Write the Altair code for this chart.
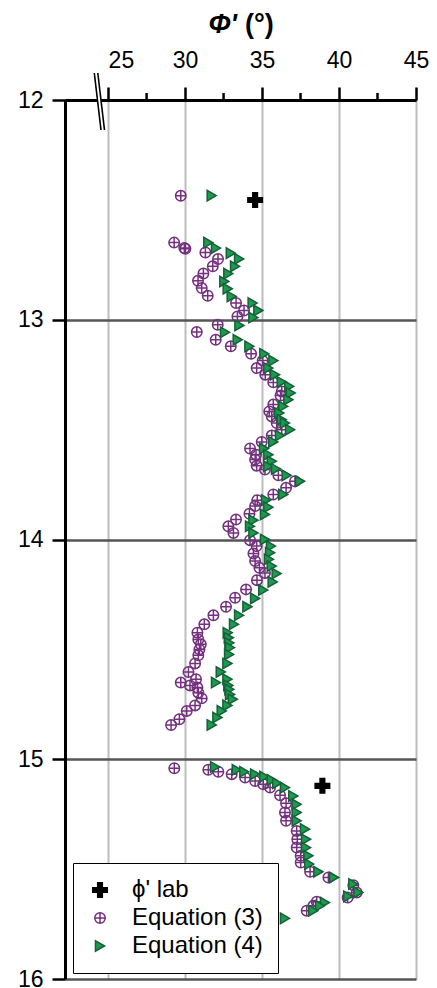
import altair as alt
import pandas as pd

# ---- data ----
eq3_depth = [12.436, 12.649, 12.674, 12.677, 12.694, 12.724, 12.757, 12.790, 12.823, 12.856,
             12.891, 12.924, 12.958, 12.985, 13.023, 13.056, 13.091, 13.121, 13.155, 13.186,
             13.220, 13.250, 13.285, 13.326, 13.345, 13.386, 13.417, 13.440, 13.470, 13.500,
             13.527, 13.556, 13.586, 13.614, 13.636, 13.664, 13.682, 13.708, 13.735, 13.765,
             13.795, 13.821, 13.848, 13.883, 13.909, 13.940, 13.970, 14.003, 14.030, 14.064,
             14.098, 14.129, 14.152, 14.185, 14.227, 14.265, 14.306, 14.345, 14.386, 14.424,
             14.455, 14.477, 14.500, 14.527, 14.564, 14.603, 14.636, 14.651, 14.664, 14.674,
             14.697, 14.723, 14.755, 14.780, 14.818, 14.844, 15.041, 15.048, 15.057, 15.068,
             15.083, 15.099, 15.114, 15.129, 15.164, 15.200, 15.242, 15.280, 15.326, 15.364,
             15.402, 15.439, 15.470, 15.512, 15.538, 15.573, 15.606, 15.629, 15.648, 15.667,
             15.689]
eq3_phi = [29.72, 29.29, 29.95, 30.02, 31.32, 32.14, 31.80, 31.19, 30.84, 31.08,
           31.47, 33.31, 33.83, 33.40, 32.12, 30.76, 31.99, 32.97, 34.29, 35.04,
           34.65, 35.21, 35.73, 36.28, 36.20, 35.73, 35.47, 35.63, 35.95, 36.28,
           35.63, 34.98, 34.22, 34.61, 34.55, 34.65, 35.19, 36.06, 37.14, 36.56,
           35.73, 34.69, 34.55, 34.18, 33.31, 32.81, 33.14, 34.22, 34.65, 34.44,
           34.55, 34.83, 35.19, 34.67, 33.96, 33.25, 32.66, 31.84, 31.25, 30.80,
           30.86, 31.02, 30.93, 30.86, 30.65, 30.22, 30.71, 29.72, 30.32, 30.80,
           30.86, 31.08, 30.65, 30.11, 29.63, 29.09, 29.30, 31.51, 32.16, 33.03,
           33.90, 34.55, 35.08, 35.52, 36.17, 36.56, 36.49, 36.56, 37.25, 37.29,
           37.25, 37.51, 37.51, 38.12, 39.31, 40.93, 41.15, 40.56, 38.55, 38.33,
           37.90]

eq4_depth = [12.435, 12.649, 12.674, 12.697, 12.723, 12.757, 12.790, 12.826, 12.859, 12.894,
             12.924, 12.958, 12.990, 13.026, 13.057, 13.091, 13.121, 13.155, 13.186, 13.220,
             13.250, 13.283, 13.303, 13.333, 13.364, 13.394, 13.424, 13.455, 13.470, 13.500,
             13.527, 13.556, 13.586, 13.614, 13.644, 13.667, 13.679, 13.708, 13.735, 13.795,
             13.821, 13.853, 13.886, 13.912, 13.940, 13.970, 14.000, 14.030, 14.060, 14.090,
             14.121, 14.155, 14.193, 14.230, 14.268, 14.306, 14.345, 14.386, 14.424, 14.447,
             14.470, 14.492, 14.523, 14.564, 14.603, 14.636, 14.651, 14.664, 14.682, 14.705,
             14.727, 14.755, 14.780, 14.810, 14.844, 15.035, 15.048, 15.057, 15.068, 15.079,
             15.094, 15.109, 15.129, 15.167, 15.205, 15.242, 15.280, 15.318, 15.364, 15.402,
             15.439, 15.477, 15.512, 15.538, 15.568, 15.606, 15.624, 15.652, 15.667, 15.689,
             15.724]
eq4_phi = [31.73, 31.51, 32.01, 32.97, 33.51, 33.25, 32.81, 32.55, 32.77, 33.03,
           34.39, 34.76, 34.44, 33.53, 32.60, 33.42, 34.18, 35.15, 35.74, 35.41,
           35.84, 36.28, 36.77, 36.86, 36.71, 36.38, 36.12, 36.28, 36.49, 36.82,
           36.17, 35.73, 35.13, 35.41, 35.63, 35.41, 35.91, 36.60, 37.47, 36.38,
           35.26, 35.41, 35.19, 34.44, 34.22, 34.44, 35.19, 35.58, 35.52, 35.45,
           35.63, 35.95, 35.69, 35.08, 34.55, 34.05, 33.51, 33.18, 32.77, 32.84,
           32.88, 32.92, 32.86, 32.75, 32.32, 32.75, 32.01, 32.81, 32.88, 32.92,
           33.10, 32.75, 32.38, 32.10, 31.73, 31.95, 33.36, 33.85, 34.55, 35.15,
           35.63, 35.99, 36.49, 37.03, 37.25, 37.25, 37.25, 37.79, 37.86, 37.86,
           38.01, 38.07, 38.66, 39.68, 40.93, 41.26, 40.60, 39.09, 38.77, 38.33,
           36.49]

lab_depth = [12.455, 15.121]
lab_phi = [34.55, 38.92]

series_names = ["\u03d5' lab", "Equation (3)", "Equation (4)"]
x_ticks = [25, 30, 35, 40, 45]
x_minor = [27.5, 32.5, 37.5, 42.5]
y_ticks = [12, 13, 14, 15, 16]

rows = []
for d, p in zip(eq3_depth, eq3_phi):
    rows.append({"series": series_names[1], "depth": d, "phi": p})
for d, p in zip(eq4_depth, eq4_phi):
    rows.append({"series": series_names[2], "depth": d, "phi": p})
for d, p in zip(lab_depth, lab_phi):
    rows.append({"series": series_names[0], "depth": d, "phi": p})
df = pd.DataFrame(rows)

W, H = 351, 879
FONT = "Liberation Sans"

xs = alt.Scale(domain=[22.2, 45], nice=False, zero=False)
ys = alt.Scale(domain=[12, 16], reverse=True, nice=False, zero=False)

circle_plus = "M-1,0A1,1,0,1,1,1,0A1,1,0,1,1,-1,0ZM-1,0L1,0M0,-1L0,1"
plus_path = "M-1,-0.32H-0.32V-1H0.32V-0.32H1V0.32H0.32V1H-0.32V0.32H-1Z"

leg = dict(title=None, orient="none", legendX=8, legendY=763)

points = alt.Chart(df).mark_point(opacity=1, strokeWidth=1.5).encode(
    x=alt.X("phi:Q", scale=xs, title=None,
            axis=alt.Axis(orient="top", values=x_ticks, labelFontSize=23, labelFont=FONT,
                          labelColor="black", tickSize=13, tickWidth=2.5, tickColor="black",
                          domainColor="black", domainWidth=3, labelPadding=15,
                          labelAlign={"condition": {"test": "datum.value === 25", "value": "left"},
                                      "value": "center"},
                          grid=True, gridColor="#bdbdbd", gridWidth=2)),
    y=alt.Y("depth:Q", scale=ys, title=None,
            axis=alt.Axis(orient="left", values=y_ticks, labelFontSize=23, labelFont=FONT,
                          labelColor="black", tickSize=13, tickWidth=2.5, tickColor="black",
                          domainColor="black", domainWidth=3, labelPadding=9,
                          grid=True, gridColor="#555555", gridWidth=2.5)),
    shape=alt.Shape("series:N", scale=alt.Scale(domain=series_names,
                                                range=[plus_path, circle_plus, "triangle-right"]),
                    legend=alt.Legend(padding=15, fillColor="white", strokeColor="black",
                                      labelFontSize=24, labelFont=FONT, labelColor="black",
                                      labelOffset=20, rowPadding=4, **leg)),
    fill=alt.Fill("series:N", scale=alt.Scale(domain=series_names,
                                              range=["black", "transparent", "#1c9a4e"]),
                  legend=alt.Legend(**leg)),
    stroke=alt.Stroke("series:N", scale=alt.Scale(domain=series_names,
                                                  range=["black", "#74307f", "#17603a"]),
                      legend=alt.Legend(**leg)),
    size=alt.Size("series:N", scale=alt.Scale(type="ordinal", domain=series_names,
                                              range=[210, 110, 110]),
                  legend=alt.Legend(**leg)),
)

minor_df = pd.DataFrame({"v": x_minor})
minor = alt.Chart(minor_df).mark_rule(color="black", strokeWidth=2.5).encode(
    x=alt.X("v:Q", scale=xs, title=None),
    y=alt.value(-7), y2=alt.value(0),
)

one = pd.DataFrame({"a": [0]})
brk_white = alt.Chart(one).mark_rule(color="white", strokeWidth=3).encode(
    x=alt.value(31), x2=alt.value(38), y=alt.value(-27), y2=alt.value(30))
brk_a = alt.Chart(one).mark_rule(color="black", strokeWidth=1.6).encode(
    x=alt.value(29.3), x2=alt.value(36), y=alt.value(-27), y2=alt.value(30))
brk_b = alt.Chart(one).mark_rule(color="black", strokeWidth=1.6).encode(
    x=alt.value(32.8), x2=alt.value(39.5), y=alt.value(-27), y2=alt.value(30))

t1 = alt.Chart(one).mark_text(text="\u03a6'", font=FONT, fontSize=27, fontWeight="bold",
                              fontStyle="italic", align="right", baseline="alphabetic",
                              color="black").encode(x=alt.value(172), y=alt.value(-67))
t2 = alt.Chart(one).mark_text(text="(\u00b0)", font=FONT, fontSize=27, fontWeight="bold",
                              align="left", baseline="alphabetic",
                              color="black").encode(x=alt.value(180), y=alt.value(-67))

chart = alt.layer(points, minor, brk_white, brk_a, brk_b, t1, t2).properties(
    width=W, height=H,
    padding={"left": 65, "top": 100, "right": 21, "bottom": 9},
    autosize=alt.AutoSizeParams(type="none"),
    background="white",
).configure_view(stroke="black", strokeWidth=3).configure(font=FONT)

chart.save("out.html", embed_options={"renderer": "svg", "actions": False})
